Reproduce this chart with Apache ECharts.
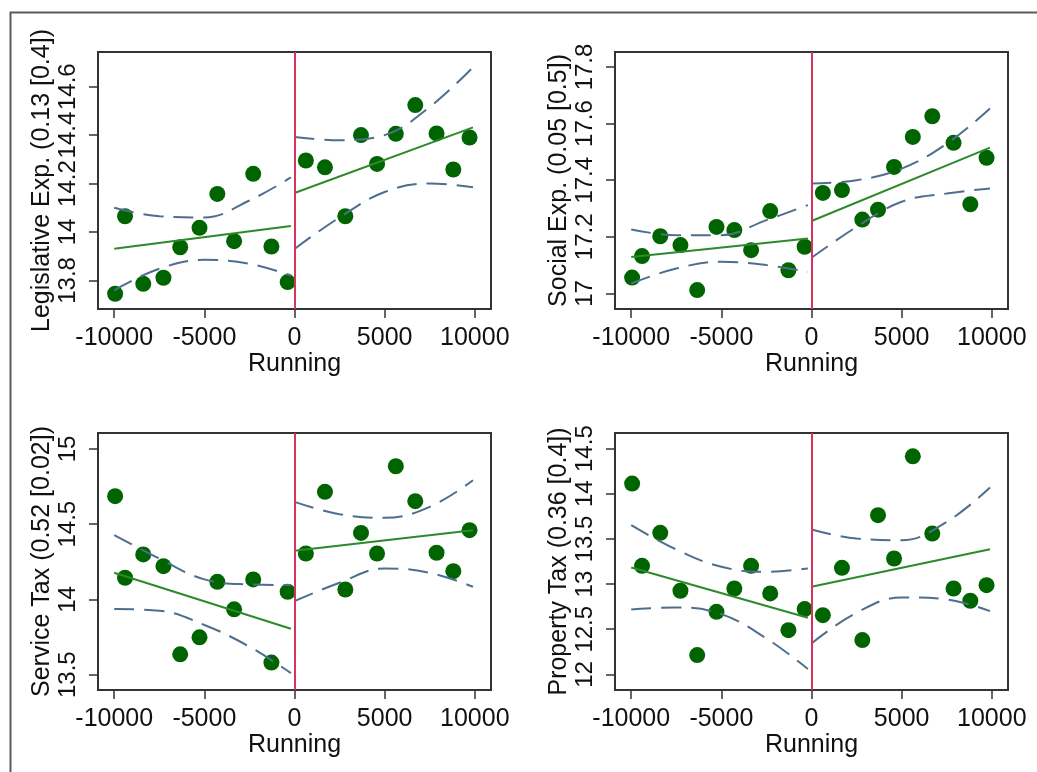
<!DOCTYPE html>
<html>
<head>
<meta charset="utf-8">
<script src="https://cdn.jsdelivr.net/npm/echarts@6/dist/echarts.min.js"></script>
<style>
  html, body { margin: 0; padding: 0; background: #fff; }
  #chart { width: 1037px; height: 772px; }
</style>
</head>
<body>
<div id="chart"></div>
<script>
// running variable bins (shared by all four panels)
var xBins = [-9950, -9400, -8390, -7270, -6340, -5270, -4280, -3350, -2290, -1280, -380,
             630, 1690, 2820, 3690, 4580, 5620, 6700, 7880, 8810, 9710];
var xTicks = [-10000, -5000, 0, 5000, 10000];
var fitLeftX = [-10000, -200];
var fitRightX = [0, 9900];
var ciLeftX = [-10000, -7500, -5000, -2500, -200];
var ciRightX = [0, 2500, 5000, 7500, 9900];

// Legislative Exp.
var legY = [13.745, 14.065, 13.786, 13.811, 13.937, 14.017, 14.157, 13.962, 14.24, 13.94, 13.793,
            14.295, 14.267, 14.065, 14.40, 14.281, 14.405, 14.524, 14.407, 14.258, 14.39];
var legFitL = [13.931, 14.025];
var legFitR = [14.161, 14.432];
var legCiUpL = [14.10, 14.065, 14.06, 14.13, 14.225];
var legCiLoL = [13.759, 13.848, 13.885, 13.869, 13.82];
var legCiUpR = [14.392, 14.379, 14.40, 14.516, 14.68];
var legCiLoR = [13.93, 14.06, 14.165, 14.20, 14.185];
var legTicks = [13.8, 14, 14.2, 14.4, 14.6];

// Social Exp.
var socY = [17.056, 17.132, 17.202, 17.171, 17.012, 17.235, 17.224, 17.153, 17.291, 17.082, 17.165,
            17.355, 17.365, 17.261, 17.296, 17.447, 17.553, 17.626, 17.532, 17.315, 17.479];
var socFitL = [17.129, 17.194];
var socFitR = [17.256, 17.515];
var socCiUpL = [17.226, 17.206, 17.206, 17.259, 17.312];
var socCiLoL = [17.035, 17.088, 17.112, 17.10, 17.076];
var socCiUpR = [17.388, 17.40, 17.441, 17.529, 17.653];
var socCiLoR = [17.126, 17.235, 17.324, 17.353, 17.371];
var socTicks = [17, 17.2, 17.4, 17.6, 17.8];

// Service Tax
var servY = [14.686, 14.144, 14.299, 14.221, 13.635, 13.748, 14.117, 13.934, 14.133, 13.58, 14.051,
             14.305, 14.715, 14.066, 14.442, 14.305, 14.885, 14.653, 14.31, 14.188, 14.46];
var servFitL = [14.177, 13.805];
var servFitR = [14.323, 14.46];
var servCiUpL = [14.427, 14.272, 14.133, 14.10, 14.095];
var servCiLoL = [13.936, 13.925, 13.83, 13.686, 13.51];
var servCiUpR = [14.648, 14.566, 14.542, 14.615, 14.792];
var servCiLoR = [13.989, 14.111, 14.206, 14.177, 14.084];
var servTicks = [13.5, 14, 14.5, 15];

// Property Tax
var propY = [14.113, 13.202, 13.567, 12.926, 12.214, 12.693, 12.951, 13.202, 12.896, 12.49, 12.723,
             12.656, 13.18, 12.38, 13.763, 13.283, 14.415, 13.56, 12.951, 12.815, 12.988];
var propFitL = [13.184, 12.627];
var propFitR = [12.97, 13.386];
var propCiUpL = [13.652, 13.383, 13.191, 13.136, 13.173];
var propCiLoL = [12.719, 12.741, 12.667, 12.398, 12.06];
var propCiUpR = [13.604, 13.504, 13.486, 13.689, 14.069];
var propCiLoR = [12.343, 12.682, 12.852, 12.83, 12.70];
var propTicks = [12, 12.5, 13, 13.5, 14, 14.5];

var panels = [
    {name: 'Legislative Exp. (0.13 [0.4])', y: legY, fitL: legFitL, fitR: legFitR,
     upL: legCiUpL, loL: legCiLoL, upR: legCiUpR, loR: legCiLoR, ticks: legTicks, min: 13.682, max: 14.743},
    {name: 'Social Exp. (0.05 [0.5])', y: socY, fitL: socFitL, fitR: socFitR,
     upL: socCiUpL, loL: socCiLoL, upR: socCiUpR, loR: socCiLoR, ticks: socTicks, min: 16.945, max: 17.853},
    {name: 'Service Tax (0.52 [0.02])', y: servY, fitL: servFitL, fitR: servFitR,
     upL: servCiUpL, loL: servCiLoL, upR: servCiUpR, loR: servCiLoR, ticks: servTicks, min: 13.398, max: 15.106},
    {name: 'Property Tax (0.36 [0.4])', y: propY, fitL: propFitL, fitR: propFitR,
     upL: propCiUpL, loL: propCiLoL, upR: propCiUpR, loR: propCiLoR, ticks: propTicks, min: 11.827, max: 14.673}
];

var gridPos = [
    {left: 98, top: 52}, {left: 615, top: 52},
    {left: 98, top: 433}, {left: 615, top: 433}
];

var font = 'Liberation Sans, Arial, sans-serif';
var fitColor = '#2c8a2c';
var ciColor = '#4e6e8e';

function zip(xs, ys) {
    return xs.map(function (x, i) { return [x, ys[i]]; });
}
function plain(v) {
    return String(v);
}

var grids = [], xAxes = [], yAxes = [], series = [];

panels.forEach(function (p, i) {
    grids.push({
        left: gridPos[i].left, top: gridPos[i].top, width: 393, height: 257,
        show: true, borderColor: '#333', borderWidth: 2, backgroundColor: '#fff'
    });
    xAxes.push({
        type: 'value', gridIndex: i, min: -10900, max: 10900,
        name: 'Running', nameLocation: 'middle', nameGap: 33,
        nameTextStyle: {fontFamily: font, fontSize: 25, color: '#111'},
        axisLine: {show: false, onZero: false},
        axisTick: {show: true, length: 9, customValues: xTicks, lineStyle: {color: '#333', width: 1.5}},
        axisLabel: {customValues: xTicks, formatter: plain, margin: 17, fontFamily: font, fontSize: 25,
                    color: '#111', showMinLabel: true, showMaxLabel: true, hideOverlap: false},
        splitLine: {show: false}
    });
    yAxes.push({
        type: 'value', gridIndex: i, min: p.min, max: p.max,
        name: p.name, nameLocation: 'middle', nameGap: 42,
        nameTextStyle: {fontFamily: font, fontSize: 25, color: '#111'},
        axisLine: {show: false, onZero: false},
        axisTick: {show: true, length: 9, customValues: p.ticks, lineStyle: {color: '#333', width: 1.5}},
        axisLabel: {customValues: p.ticks, formatter: plain, rotate: 90, margin: 18, fontFamily: font,
                    fontSize: 24, color: '#111', showMinLabel: true, showMaxLabel: true, hideOverlap: false},
        splitLine: {show: false}
    });
    series.push({
        type: 'scatter', xAxisIndex: i, yAxisIndex: i, data: zip(xBins, p.y),
        symbolSize: 16, itemStyle: {color: '#006400', opacity: 1}, z: 2,
        markLine: {
            silent: true, symbol: ['none', 'none'], label: {show: false},
            lineStyle: {color: '#d7335c', width: 2, type: 'solid'},
            data: [{xAxis: 0}], animation: false
        }
    });
    [[fitLeftX, p.fitL], [fitRightX, p.fitR]].forEach(function (f) {
        series.push({
            type: 'line', xAxisIndex: i, yAxisIndex: i, data: zip(f[0], f[1]),
            showSymbol: false, lineStyle: {color: fitColor, width: 2}, z: 3
        });
    });
    [[ciLeftX, p.upL], [ciLeftX, p.loL], [ciRightX, p.upR], [ciRightX, p.loR]].forEach(function (c) {
        series.push({
            type: 'line', xAxisIndex: i, yAxisIndex: i, data: zip(c[0], c[1]),
            showSymbol: false, smooth: 0.4,
            lineStyle: {color: ciColor, width: 2, type: [20, 10]}, z: 3
        });
    });
});

var chart = echarts.init(document.getElementById('chart'));
chart.setOption({
    backgroundColor: '#fff',
    animation: false,
    graphic: [{
        type: 'rect', left: 8, top: 10, silent: true,
        shape: {width: 1060, height: 800},
        style: {fill: 'none', stroke: '#5a5a5a', lineWidth: 2}
    }],
    grid: grids,
    xAxis: xAxes,
    yAxis: yAxes,
    series: series
});
</script>
</body>
</html>
